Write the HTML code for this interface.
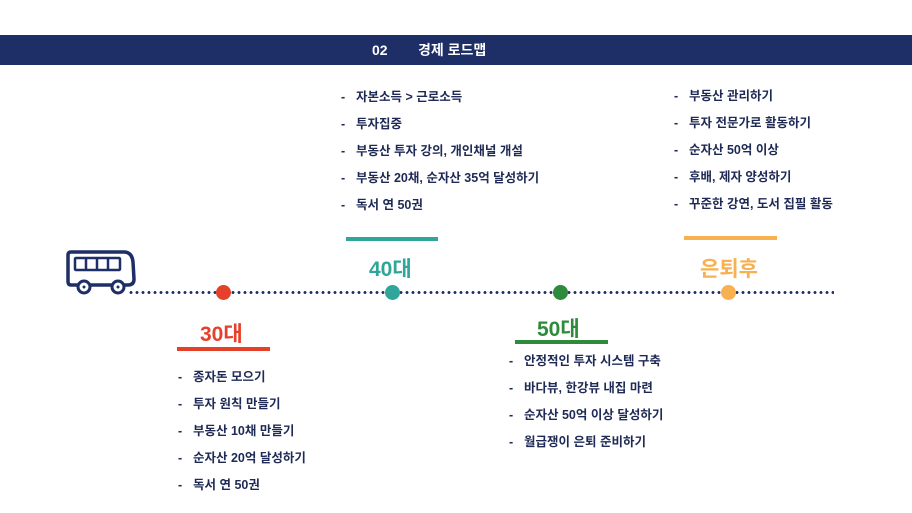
<!DOCTYPE html>
<html><head><meta charset="utf-8"><style>
body{margin:0;width:912px;height:513px;background:#fff;position:relative;overflow:hidden;font-family:"Liberation Sans","Noto Sans CJK KR",sans-serif;}
.hdr{position:absolute;left:0;top:35px;width:912px;height:30px;background:#1e2e66;color:#fff;font-weight:bold;font-size:14px;line-height:30px;}
.hdr span{position:absolute;top:0}
.ul{position:absolute;list-style:none;margin:0;padding:0;color:#1e2a55;font-size:12.5px;font-weight:bold;}
.ul li{height:27px;line-height:14px;white-space:nowrap}
.ul li:before{content:"-";display:inline-block;width:15px}
.lab{position:absolute;font-size:21px;font-weight:bold;}
.bar{position:absolute;height:4px}
.dot{position:absolute;width:15px;height:15px;border-radius:50%;top:285px}
.line{position:absolute;left:128px;top:291px;width:706px;height:3px;background:radial-gradient(circle,#1e2e66 1.3px,transparent 1.6px) 0 0/6px 3px repeat-x}
</style></head><body>
<div class="hdr"><span style="left:372px">02</span><span style="left:418px">경제 로드맵</span></div>
<svg style="position:absolute;left:66px;top:247px" width="70" height="50" viewBox="0 0 70 50">
<path d="M5 5 H58 Q66 5 67 15 L68 32 Q68 38 62 38 H5 Q2 38 2 34 V8 Q2 5 5 5Z" fill="#fff" stroke="#1e2e66" stroke-width="3.5"/>
<rect x="9" y="11" width="45" height="12" fill="none" stroke="#1e2e66" stroke-width="2.5" rx="1"/>
<line x1="20" y1="11" x2="20" y2="23" stroke="#1e2e66" stroke-width="2.5"/>
<line x1="31" y1="11" x2="31" y2="23" stroke="#1e2e66" stroke-width="2.5"/>
<line x1="42" y1="11" x2="42" y2="23" stroke="#1e2e66" stroke-width="2.5"/>
<circle cx="18" cy="40" r="6" fill="#fff" stroke="#1e2e66" stroke-width="3"/><circle cx="18" cy="40" r="1.5" fill="#1e2e66"/>
<circle cx="52" cy="40" r="6" fill="#fff" stroke="#1e2e66" stroke-width="3"/><circle cx="52" cy="40" r="1.5" fill="#1e2e66"/>
</svg>
<div class="line"></div>
<div class="dot" style="left:216px;background:#e5402a"></div>
<div class="dot" style="left:385px;background:#2fa699"></div>
<div class="dot" style="left:553px;background:#2e8b3b"></div>
<div class="dot" style="left:721px;background:#f8b151"></div>

<div class="lab" style="left:200px;top:318px;color:#e5402a">30대</div>
<div class="bar" style="left:177px;top:347px;width:93px;background:#e5402a"></div>
<div class="bar" style="left:346px;top:237px;width:92px;background:#2fa699"></div>
<div class="lab" style="left:369px;top:253px;color:#2fa699">40대</div>
<div class="lab" style="left:537px;top:313px;color:#2e8b3b">50대</div>
<div class="bar" style="left:515px;top:340px;width:93px;background:#2e8b3b"></div>
<div class="bar" style="left:684px;top:236px;width:93px;background:#f8b151"></div>
<div class="lab" style="left:700px;top:253px;color:#f8b151">은퇴후</div>

<ul class="ul" style="left:341px;top:90px"><li>자본소득 &gt; 근로소득</li><li>투자집중</li><li>부동산 투자 강의, 개인채널 개설</li><li>부동산 20채, 순자산 35억 달성하기</li><li>독서 연 50권</li></ul>
<ul class="ul" style="left:674px;top:89px"><li>부동산 관리하기</li><li>투자 전문가로 활동하기</li><li>순자산 50억 이상</li><li>후배, 제자 양성하기</li><li>꾸준한 강연, 도서 집필 활동</li></ul>
<ul class="ul" style="left:178px;top:370px"><li>종자돈 모으기</li><li>투자 원칙 만들기</li><li>부동산 10채 만들기</li><li>순자산 20억 달성하기</li><li>독서 연 50권</li></ul>
<ul class="ul" style="left:509px;top:354px"><li>안정적인 투자 시스템 구축</li><li>바다뷰, 한강뷰 내집 마련</li><li>순자산 50억 이상 달성하기</li><li>월급쟁이 은퇴 준비하기</li></ul>
</body></html>
